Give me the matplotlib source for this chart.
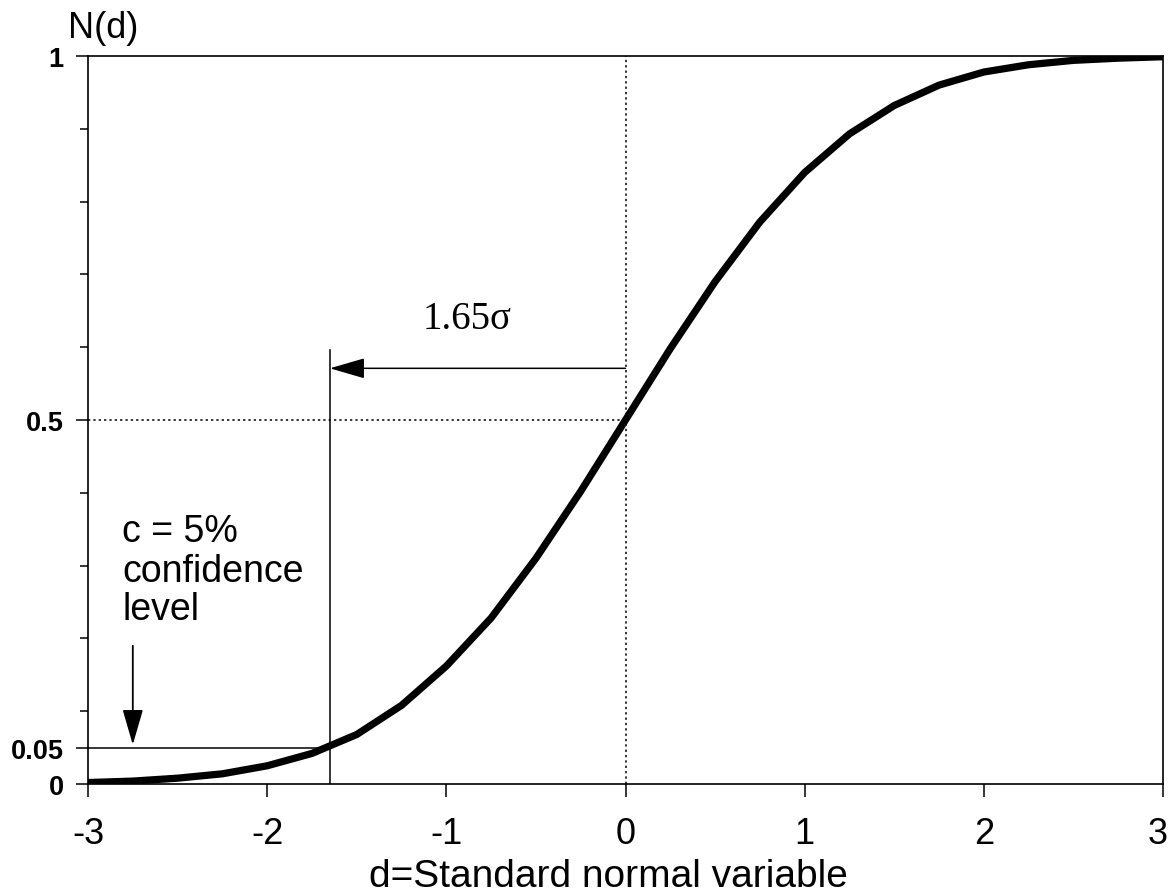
import numpy as np
import matplotlib
matplotlib.use("Agg")
from matplotlib import pyplot as plt
from matplotlib import transforms

plt.rcParams['font.family'] = ['Liberation Sans', 'DejaVu Sans']

# values
d = [-3, -2.75, -2.5, -2.25, -2, -1.75, -1.5, -1.25, -1, -0.75, -0.5, -0.25,
     0, 0.25, 0.5, 0.75, 1, 1.25, 1.5, 1.75, 2, 2.25, 2.5, 2.75, 3]
Nd = [0.002, 0.004, 0.008, 0.014, 0.025, 0.042, 0.068, 0.108, 0.162, 0.228,
      0.31, 0.402, 0.50, 0.598, 0.69, 0.772, 0.84, 0.893, 0.932, 0.96, 0.978,
      0.988, 0.994, 0.997, 0.999]
xTicks = [-3, -2, -1, 0, 1, 2, 3]
yTicks = [0, 0.05, 0.5, 1]
yTickLabels = ['0', '0.05', '0.5', '1']
yMinor = [0.1, 0.2, 0.3, 0.4, 0.6, 0.7, 0.8, 0.9]
dCrit = -1.65
conf = 0.05
arrowLevel = 0.571
critTop = 0.596

#
fig = plt.figure(figsize=(11.7, 8.95), dpi=100)
ax = fig.add_axes([88/1170, 110/895, 1075/1170, 728/895])
ax.set_xlim(-3, 3)
ax.set_ylim(0, 1)

ax.plot(d, Nd, '-k', lw=5.2, solid_capstyle='round', zorder=5)

# guide lines
ax.plot([0, 0], [0, 1], color='k', lw=1.1, ls=(0, (1.5, 2)))
ax.plot([-3, 0], [0.5, 0.5], color='k', lw=1.1, ls=(0, (1.5, 2)))
ax.plot([-3, dCrit], [conf, conf], '-k', lw=1.1)
ax.plot([dCrit, dCrit], [0, critTop], '-k', lw=1.1)

# arrows
ax.annotate('', xy=(dCrit, arrowLevel), xytext=(0, arrowLevel),
            arrowprops=dict(arrowstyle='-|>,head_length=1.1,head_width=0.32',
                            mutation_scale=20, color='k', lw=1.1,
                            shrinkA=0, shrinkB=0))
ax.annotate('', xy=(-2.75, conf + 0.004), xytext=(-2.75, 0.19),
            arrowprops=dict(arrowstyle='-|>,head_length=1.1,head_width=0.32',
                            mutation_scale=20, color='k', lw=1.3,
                            shrinkA=0, shrinkB=0))

# texts
ax.text(-0.885, 0.627, '1.65\u03c3', fontsize=28, ha='center', va='baseline',
        family=['Liberation Serif', 'DejaVu Serif'])
ax.text(-2.81, 0.334, 'c = 5%', fontsize=27, ha='left', va='baseline')
ax.text(-2.81, 0.279, 'confidence', fontsize=27, ha='left', va='baseline')
ax.text(-2.81, 0.227, 'level', fontsize=27, ha='left', va='baseline')
ax.text(-0.0186, 1.026, 'N(d)', fontsize=26, ha='left', va='baseline',
        transform=ax.transAxes)

# axes styling
for s in ax.spines.values():
    s.set_linewidth(1.2)
ax.set_xticks(xTicks)
ax.set_xticklabels([str(t) for t in xTicks], fontsize=26)
ax.set_yticks(yTicks)
ax.set_yticklabels(yTickLabels, fontsize=19.5, fontweight='bold')
ax.set_yticks(yMinor, minor=True)
ax.tick_params(axis='x', direction='out', length=9, width=1.1, pad=14)
ax.tick_params(axis='y', which='major', direction='out', length=8.5, width=1.1, pad=9)
ax.tick_params(axis='y', which='minor', direction='out', length=5.5, width=1.1)
ax.set_xlabel('d=Standard normal variable', fontsize=28, labelpad=5, x=0.484)

# keep the last x label inside the canvas
lastLabel = ax.get_xticklabels()[-1]
lastLabel.set_transform(lastLabel.get_transform() +
                        transforms.ScaledTranslation(-5/100, 0, fig.dpi_scale_trans))

fig.savefig('out.png', dpi=100)
